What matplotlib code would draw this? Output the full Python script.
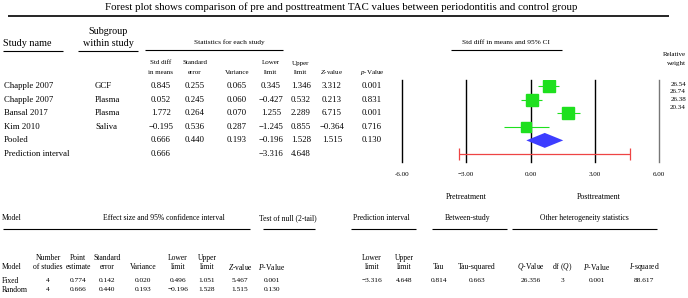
import numpy as np
import matplotlib
matplotlib.use('Agg')
import matplotlib.pyplot as plt

plt.rcParams['font.family'] = ['Liberation Serif', 'DejaVu Serif']
plt.rcParams['mathtext.fontset'] = 'custom'
plt.rcParams['mathtext.rm'] = 'Liberation Serif'
plt.rcParams['mathtext.it'] = 'Liberation Serif:italic'

# ── data ─────────────────────────────────────────────────────────────────────
TITLE = ('Forest plot shows comparison of pre and posttreatment TAC values '
         'between periodontitis and control group')

studies   = ['Chapple 2007', 'Chapple 2007', 'Bansal 2017', 'Kim 2010']
subgroups = ['GCF', 'Plasma', 'Plasma', 'Saliva']
smd       = [0.845, 0.052, 1.772, -0.195]
se        = [0.255, 0.245, 0.264, 0.536]
variance  = [0.065, 0.060, 0.070, 0.287]
lower     = [0.345, -0.427, 1.255, -1.245]
upper     = [1.346, 0.532, 2.289, 0.855]
zvals     = [3.312, 0.213, 6.715, -0.364]
pvals     = [0.001, 0.831, 0.001, 0.716]
weights   = [26.54, 26.74, 26.38, 20.34]

pooled    = [0.666, 0.440, 0.193, -0.196, 1.528, 1.515, 0.130]  # est, se, var, lo, hi, z, p
pred_int  = [0.666, -3.316, 4.648]                              # est, lo, hi

axis_ticks  = [-6, -3, 0, 3, 6]
tick_labels = ['-6.00', '−3.00', '0.00', '3.00', '6.00']

models      = ['Fixed', 'Random']
n_studies   = [4, 4]
m_point     = [0.774, 0.666]
m_se        = [0.142, 0.440]
m_var       = [0.020, 0.193]
m_lo        = [0.496, -0.196]
m_hi        = [1.051, 1.528]
m_z         = [5.467, 1.515]
m_p         = [0.001, 0.130]
pi_lims     = [-3.316, 4.648]
heterog     = [0.814, 0.663, 26.356, 3, 0.001, 88.617]  # tau, tau2, Q, df, p, I2


def fmt(v, nd=3):
    return f'{v:.{nd}f}'.replace('-', '−')


# ── figure ───────────────────────────────────────────────────────────────────
W, H = 688, 298
fig = plt.figure(figsize=(W / 100, H / 100), dpi=100)
fig.patch.set_facecolor('white')

lay = fig.add_axes([0, 0, 1, 1])
lay.set_xlim(0, W); lay.set_ylim(H, 0); lay.axis('off')

def T(x, y, s, size=6.3, ha='center', **kw):
    lay.text(x, y, s, fontsize=size, ha=ha, va='center', **kw)

def line(x0, x1, y, lw=0.8):
    lay.plot([x0, x1], [y, y], color='black', lw=lw, solid_capstyle='butt')

# title
T(341, 7, TITLE, size=7.8)
line(8, 669, 15.5, lw=1.2)

# top headers
T(3, 43, 'Study name', size=7.3, ha='left')
line(3, 63, 50.5)
T(108, 32, 'Subgroup', size=7.3)
T(108, 43, 'within study', size=7.3)
line(78, 138, 50.5)
T(229, 42, 'Statistics for each study', size=5.3)
line(145, 283, 49.5)
T(506, 43, 'Std diff in means and 95% CI', size=5.3)
line(451, 562, 49.5)
T(686, 54, 'Relative', size=5, ha='right')
T(686, 63, 'weight', size=5, ha='right')

col_x = [161, 195, 237, 271, 301, 332, 372]
hdr1 = ['Std diff', 'Standard', '', 'Lower', 'Upper', '', '']
hdr2 = ['in means', 'error', 'Variance', 'limit', 'limit',
        r'$\mathit{Z}$-value', r'$\mathit{p}$-Value']
for x, a, b in zip(col_x, hdr1, hdr2):
    if a:
        T(x, 63, a, size=5)
    T(x, 72.5, b, size=5)

row_y = [86 + 13.6 * i for i in range(6)]
for i in range(len(studies)):
    y = row_y[i]
    T(4, y, studies[i], ha='left')
    T(95, y, subgroups[i], ha='left')
    vals = [smd[i], se[i], variance[i], lower[i], upper[i], zvals[i], pvals[i]]
    for x, v in zip(col_x, vals):
        T(x, y, fmt(v))
    T(686, 84 + 7.7 * i, fmt(weights[i], 2), size=5, ha='right')

T(4, row_y[4], 'Pooled', ha='left')
for x, v in zip(col_x, pooled):
    T(x, row_y[4], fmt(v))
T(4, row_y[5], 'Prediction interval', ha='left')
T(col_x[0], row_y[5], fmt(pred_int[0]))
T(col_x[3], row_y[5], fmt(pred_int[1]))
T(col_x[4], row_y[5], fmt(pred_int[2]))

T(466, 197, 'Pretreatment', size=5.8)
T(599, 197, 'Posttreatment', size=5.8)

# ── forest plot ──────────────────────────────────────────────────────────────
px_top, px_bot = 80, 162
ax = fig.add_axes([402 / W, 1 - px_bot / H, 257 / W, (px_bot - px_top) / H])
ax.set_xlim(-6, 6)
r0 = (px_top - 86) / 13.6
r1 = (px_bot - 86) / 13.6
ax.set_ylim(r1, r0)
ax.patch.set_alpha(0)
for s in ax.spines.values():
    s.set_visible(False)
ax.set_yticks([])
ax.set_xticks(axis_ticks)
ax.set_xticklabels(tick_labels, fontsize=5)
ax.tick_params(axis='x', length=0, pad=7)

for t in axis_ticks:
    ax.axvline(t, color='#777777' if t == 6 else 'black', lw=1.0, clip_on=False)

rows = np.arange(len(studies))
green = '#1ee01e'
ax.hlines(rows, lower, upper, color=green, lw=0.8, zorder=3)
msize = 8.3 * np.sqrt(np.array(weights) / max(weights))
for r, m, s in zip(rows, smd, msize):
    ax.plot(m, r, 's', color=green, ms=s, mec=green, zorder=4)

# pooled diamond
est, lo, hi = pooled[0], pooled[3], pooled[4]
h = 0.55
ax.fill([lo, est, hi, est], [4, 4 - h, 4, 4 + h], color='#3d3dff', zorder=4, lw=0)

# prediction interval
ax.errorbar(pred_int[0], 5, xerr=[[pred_int[0] - pred_int[1]], [pred_int[2] - pred_int[0]]],
            fmt='none', ecolor='#ee4444', elinewidth=0.9, capsize=4, capthick=0.9)

# ── bottom table ─────────────────────────────────────────────────────────────
T(2, 218, 'Model', size=5.5, ha='left')
T(164, 218, 'Effect size and 95% confidence interval', size=5.5)
line(3, 250, 228.5)
T(288, 218, 'Test of null (2-tail)', size=5.5)
line(263, 315, 228.5)
T(381, 218, 'Prediction interval', size=5.5)
line(351, 416, 228.5)
T(468, 218, 'Between-study', size=5.5)
line(432, 507, 228.5)
T(584, 218, 'Other heterogeneity statistics', size=5.5)
line(512, 657, 228.5)

bx = [48, 78, 107, 143, 178, 207, 240, 272, 372, 404, 439, 477, 531, 562, 597, 644]
b1 = ['Number', 'Point', 'Standard', '', 'Lower', 'Upper', '', '',
      'Lower', 'Upper', '', '', '', '', '', '']
b2 = ['of studies', 'estimate', 'error', 'Variance', 'limit', 'limit',
      r'$\mathit{Z}$-value', r'$\mathit{P}$-Value', 'limit', 'limit', 'Tau',
      'Tau-squared', r'$\mathit{Q}$-Value', r'df ($\mathit{Q}$)',
      r'$\mathit{P}$-Value', r'$\mathit{I}$-squared']
for x, a, b in zip(bx, b1, b2):
    if a:
        T(x, 257.5, a, size=5.5)
    T(x, 267, b, size=5.5)
T(2, 267, 'Model', size=5.5, ha='left')

by = [281, 289.5]
for i, m in enumerate(models):
    y = by[i]
    T(2, y, m, size=5.5, ha='left')
    vals = [str(n_studies[i]), fmt(m_point[i]), fmt(m_se[i]), fmt(m_var[i]),
            fmt(m_lo[i]), fmt(m_hi[i]), fmt(m_z[i]), fmt(m_p[i])]
    for x, s in zip(bx[:8], vals):
        T(x, y, s, size=5.3)
    if i == 0:
        extra = [fmt(pi_lims[0]), fmt(pi_lims[1]), fmt(heterog[0]), fmt(heterog[1]),
                 fmt(heterog[2]), str(heterog[3]), fmt(heterog[4]), fmt(heterog[5])]
        for x, s in zip(bx[8:], extra):
            T(x, y, s, size=5.3)

fig.savefig('out.png', dpi=100, facecolor='white')
